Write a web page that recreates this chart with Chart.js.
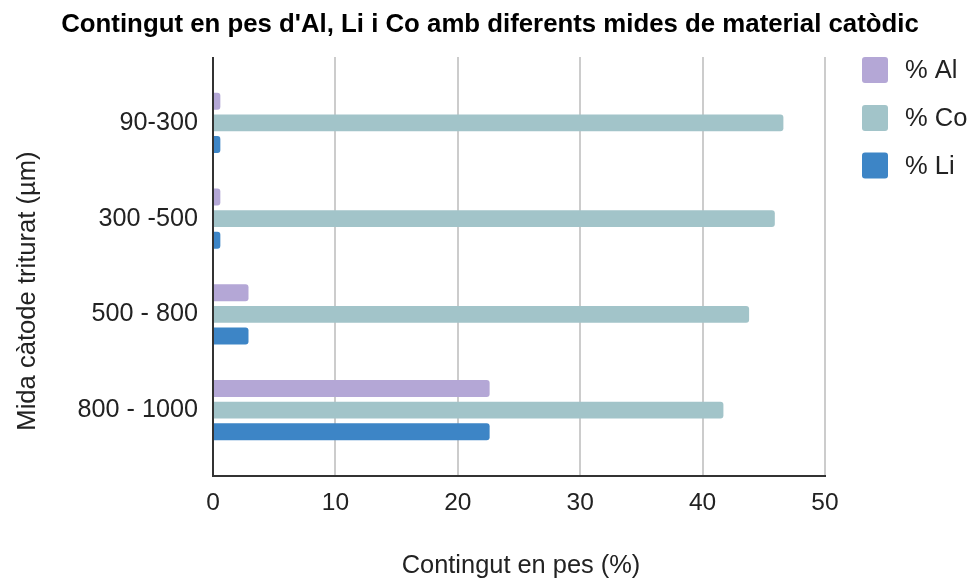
<!DOCTYPE html>
<html>
<head>
<meta charset="utf-8">
<script src="https://cdn.jsdelivr.net/npm/chart.js@4/dist/chart.umd.min.js"></script>
<style>
  html, body { margin: 0; padding: 0; background: #ffffff; }
  #wrap { width: 969px; height: 583px; }
</style>
</head>
<body>
<div id="wrap"><canvas id="c" width="969" height="583"></canvas></div>
<script>
// Particle-size classes of the crushed cathode (µm)
const categories = ['90-300', '300 -500', '500 - 800', '800 - 1000'];
// Weight content (%) per element
const pctAl = [0.6, 0.6, 2.9, 22.6];
const pctCo = [46.6, 45.9, 43.8, 41.7];
const pctLi = [0.6, 0.6, 2.9, 22.6];
// Horizontal axis ticks
const xTicks = [0, 10, 20, 30, 40, 50];

const seriesNames = ['% Al', '% Co', '% Li'];
const seriesColors = ['#b4a7d6', '#a2c4c9', '#3d85c6'];

const chartTitle = "Contingut en pes d'Al, Li i Co amb diferents mides de material catòdic";
const xTitle = 'Contingut en pes (%)';
const yTitle = 'Mida càtode triturat (µm)';

const FONT = "'Liberation Sans', Arial, sans-serif";
const TEXT = '#222222';

// Frame lines extend a little above and below the category band
const EXT = 18;

const framePlugin = {
  id: 'frame',
  beforeDatasetsDraw(chart) {
    const { ctx, chartArea } = chart;
    const xs = chart.scales.x;
    ctx.save();
    ctx.strokeStyle = '#cccccc';
    ctx.lineWidth = 2;
    xTicks.forEach(v => {
      if (v === 0) return;
      const px = Math.round(xs.getPixelForValue(v));
      ctx.beginPath();
      ctx.moveTo(px, chartArea.top - EXT);
      ctx.lineTo(px, chartArea.bottom + EXT);
      ctx.stroke();
    });
    ctx.restore();
  },
  afterDatasetsDraw(chart) {
    const { ctx, chartArea } = chart;
    const xs = chart.scales.x;
    const x0 = Math.round(xs.getPixelForValue(0));
    const x1 = Math.round(xs.getPixelForValue(xTicks[xTicks.length - 1]));
    const yb = chartArea.bottom + EXT;
    ctx.save();
    ctx.strokeStyle = '#333333';
    ctx.lineWidth = 2;
    ctx.beginPath();
    ctx.moveTo(x0, chartArea.top - EXT);
    ctx.lineTo(x0, yb);
    ctx.lineTo(x1 + 1, yb);
    ctx.stroke();
    ctx.restore();
  },
  afterDraw(chart) {
    const { ctx } = chart;
    ctx.save();
    // Chart title
    ctx.fillStyle = '#000000';
    ctx.font = `bold 25.8px ${FONT}`;
    ctx.textAlign = 'center';
    ctx.textBaseline = 'alphabetic';
    ctx.fillText(chartTitle, 490, 31.5);

    // Axis titles
    ctx.textBaseline = 'middle';
    ctx.fillStyle = TEXT;
    ctx.font = `25.4px ${FONT}`;
    ctx.fillText(xTitle, 521, 566);
    ctx.save();
    ctx.translate(28, 291);
    ctx.rotate(-Math.PI / 2);
    ctx.font = `25.6px ${FONT}`;
    ctx.fillText(yTitle, 0, 0);
    ctx.restore();

    // Legend
    const rowY = [70, 118, 165.5];
    chart.data.datasets.forEach((ds, i) => {
      const cy = rowY[i];
      ctx.fillStyle = ds.backgroundColor;
      ctx.beginPath();
      ctx.roundRect(862, cy - 13, 26, 26, 3);
      ctx.fill();
      ctx.fillStyle = TEXT;
      ctx.textAlign = 'left';
      ctx.font = `25.5px ${FONT}`;
      ctx.fillText(ds.label, 905, cy + 1);
    });
    ctx.restore();
  }
};

new Chart(document.getElementById('c'), {
  type: 'bar',
  data: {
    labels: categories,
    datasets: [
      { label: seriesNames[0], data: pctAl, backgroundColor: seriesColors[0] },
      { label: seriesNames[1], data: pctCo, backgroundColor: seriesColors[1] },
      { label: seriesNames[2], data: pctLi, backgroundColor: seriesColors[2] }
    ]
  },
  options: {
    indexAxis: 'y',
    responsive: false,
    animation: false,
    devicePixelRatio: 1,
    layout: { padding: { top: 75, right: 144, left: 0, bottom: 0 } },
    datasets: {
      bar: {
        categoryPercentage: 0.68,
        barPercentage: 0.78,
        borderRadius: 3,
        borderSkipped: 'start'
      }
    },
    plugins: {
      legend: { display: false },
      title: { display: false },
      tooltip: { enabled: false }
    },
    scales: {
      x: {
        type: 'linear',
        min: 0,
        max: 50,
        afterBuildTicks(scale) { scale.ticks = xTicks.map(v => ({ value: v })); },
        afterFit(scale) { scale.height = 125; },
        grid: { display: false, drawTicks: false },
        border: { display: false },
        ticks: {
          padding: 31,
          color: TEXT,
          font: { family: FONT, size: 24.5 }
        }
      },
      y: {
        afterFit(scale) { scale.width = 213; },
        grid: { display: false, drawTicks: false },
        border: { display: false },
        ticks: {
          padding: 15,
          color: TEXT,
          font: { family: FONT, size: 25.2 }
        }
      }
    }
  },
  plugins: [framePlugin]
});
</script>
</body>
</html>
